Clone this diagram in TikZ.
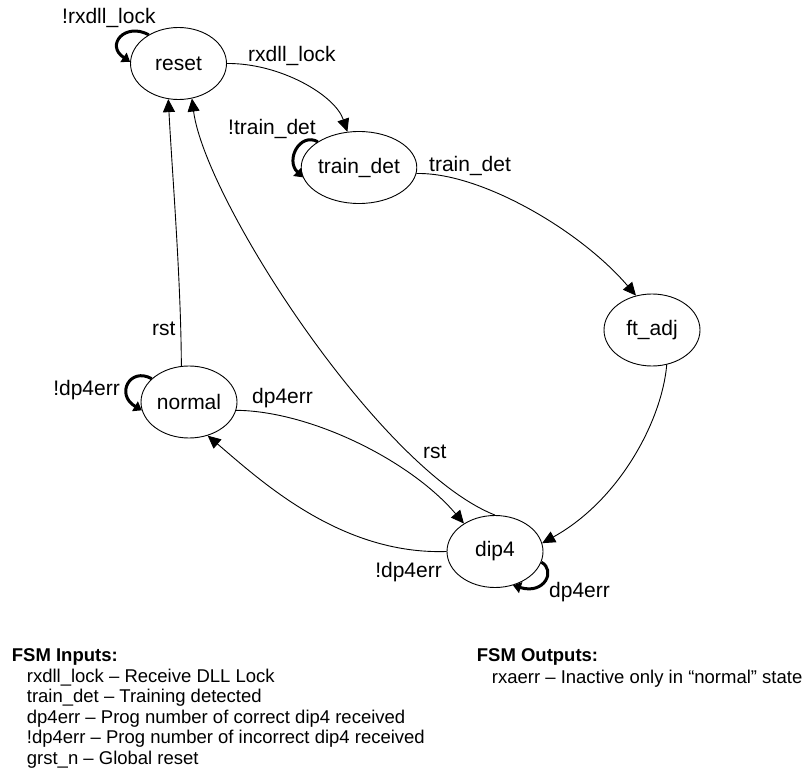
\documentclass[tikz,border=0pt]{standalone}
\usepackage{fontspec}
\setmainfont{Liberation Sans}
\usetikzlibrary{shapes.geometric,arrows.meta}
\begin{document}
\begin{tikzpicture}[x=1pt,y=-1pt,
  state/.style={ellipse,draw,line width=0.9pt,minimum width=96pt,minimum height=72pt,inner sep=0pt,font=\fontsize{21}{24}\selectfont},
  edge/.style={draw,line width=0.9pt,-{Triangle[length=13pt,width=12pt]}},
  selfloop/.style={draw,line width=3pt,-{Triangle[length=8pt,width=11pt]}},
  lbl/.style={inner sep=0pt,font=\fontsize{21}{24}\selectfont},
  foot/.style={inner sep=0pt,font=\fontsize{18.5}{22}\selectfont,anchor=base west},
  foothead/.style={inner sep=0pt,font=\bfseries\fontsize{18.5}{22}\selectfont,anchor=base west},
]
\useasboundingbox (0,0) rectangle (806,778);

% states
\node[state] (reset)  at (178.5,63.5) {reset};
\node[state] (train)  at (359,167.5)  {train\_det};
\node[state] (ftadj)  at (652,330)    {ft\_adj};
\node[state] (normal) at (189,402)    {normal};
\node[state] (dip4)   at (495,551.5)  {dip4};

% transitions
\draw[edge] (reset.east) .. controls (280,63) and (335,95) .. (train.108);
\draw[edge] (train.-6) .. controls (480,172) and (580,230) .. (ftadj.115);
\draw[edge] (ftadj.-67) .. controls (662,420) and (620,500) .. (dip4.10);
\draw[edge] (dip4.west) .. controls (340,555) and (260,480) .. (normal.-61);
\draw[edge] (normal.-10) .. controls (310,411) and (410,460) .. (dip4.138);
\draw[edge] (dip4.north) .. controls (380,470) and (205,200) .. (reset.-69);
\draw[edge] (normal.102) .. controls (181,280) and (172,170) .. (reset.-106);

% self loops
\draw[selfloop] (reset.136) .. controls (125,22) and (105,45) .. (reset.178);
\draw[selfloop] (train.148) .. controls (300,132) and (285,160) .. (train.190);
\draw[selfloop] (normal.148) .. controls (130,366.5) and (115,394.5) .. (normal.190);
\draw[selfloop] (dip4.-13) .. controls (556,570) and (545,595) .. (dip4.-62);

% labels
\node[lbl,anchor=base west] (l1)  at (62,24)   {!rxdll\_lock};
\node[lbl,anchor=base west] (l2)  at (248,62)  {rxdll\_lock};
\node[lbl,anchor=base west] (l3)  at (228,135) {!train\_det};
\node[lbl,anchor=base west] (l4)  at (429,172) {train\_det};
\node[lbl,anchor=base west] (l5)  at (152,335) {rst};
\node[lbl,anchor=base east] (l6)  at (120,395) {!dp4err};
\node[lbl,anchor=base west] (l7)  at (252,403) {dp4err};
\node[lbl,anchor=base west] (l8)  at (423,458) {rst};
\node[lbl,anchor=base east] (l9)  at (442,577) {!dp4err};
\node[lbl,anchor=base west] (l10) at (549,597) {dp4err};

% footer
\node[foothead] (fin)  at (11.7,661.7) {FSM Inputs:};
\node[foot] (f1) at (26.7,682)   {rxdll\_lock -- Receive DLL Lock};
\node[foot] (f2) at (26.7,702.6) {train\_det -- Training detected};
\node[foot] (f3) at (26.7,723.2) {dp4err -- Prog number of correct dip4 received};
\node[foot] (f4) at (26.7,743.8) {!dp4err -- Prog number of incorrect dip4 received};
\node[foot] (f5) at (26.7,764.4) {grst\_n -- Global reset};
\node[foothead] (fout) at (476.7,661.7) {FSM Outputs:};
\node[foot] (o1) at (491.7,683) {rxaerr -- Inactive only in “normal” state};
\end{tikzpicture}
\end{document}
